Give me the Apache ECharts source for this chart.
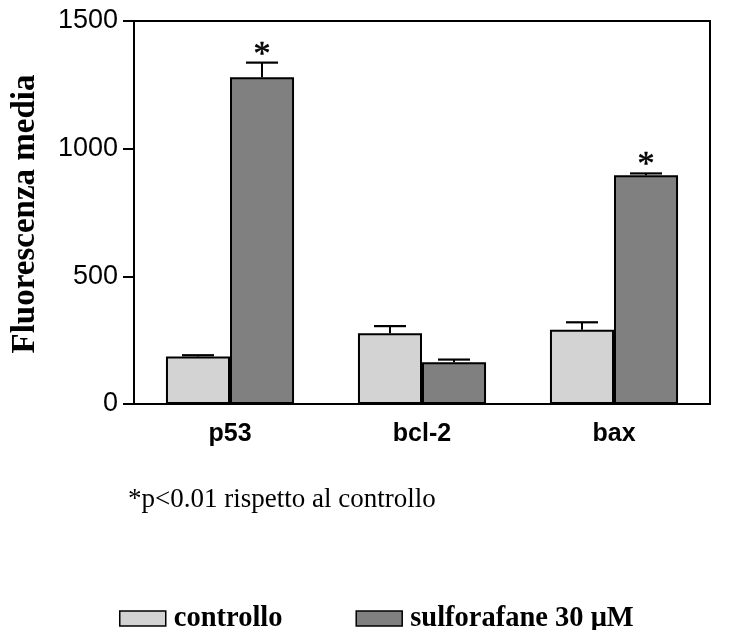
<!DOCTYPE html>
<html>
<head>
<meta charset="utf-8">
<script src="https://cdn.jsdelivr.net/npm/echarts@6/dist/echarts.min.js"></script>
<style>html,body{margin:0;padding:0;background:#fff;}#main{width:729px;height:630px;}</style>
</head>
<body>
<div id="main"></div>
<script>
var categories = ['p53', 'bcl-2', 'bax'];
var seriesNames = ['controllo', 'sulforafane 30 \u03bcM'];
var controlValues = [186, 277, 291];
var controlErrors = [5, 28, 29];
var sulfValues = [1280, 164, 896];
var sulfErrors = [57, 10, 7];
var sulfSignif = ['*', '', '*'];
var yTicks = [0, 500, 1000, 1500];
var footnote = '*p<0.01 rispetto al controllo';
var yTitle = 'Fluorescenza media';

var chart = echarts.init(document.getElementById('main'), null, {renderer: 'canvas'});

function errData(vals, errs, sig) {
  return categories.map(function (c, i) { return [i, vals[i], errs[i], sig ? sig[i] : '']; });
}

function makeErr(offsetSign) {
  return function (params, api) {
    var band = api.size([1, 0])[0];
    var off = offsetSign * band / 6;
    var x = api.coord([api.value(0), 0])[0] + off;
    var yTop = api.coord([0, api.value(1)])[1];
    var yCap = api.coord([0, api.value(1) + api.value(2)])[1];
    var half = band / 12;
    var children = [
      {type: 'line', shape: {x1: x, y1: yTop, x2: x, y2: yCap}, style: {stroke: '#000', lineWidth: 2}},
      {type: 'line', shape: {x1: x - half, y1: yCap, x2: x + half, y2: yCap}, style: {stroke: '#000', lineWidth: 2.2}}
    ];
    var s = api.value(3);
    if (s) {
      children.push({type: 'text', style: {text: s, x: x, y: yCap - 8, align: 'center', verticalAlign: 'middle',
        font: '34px "Liberation Serif", "Times New Roman", serif', fill: '#000', stroke: '#000', lineWidth: 0.6}});
    }
    return {type: 'group', children: children};
  };
}

var option = {
  animation: false,
  backgroundColor: '#fff',
  grid: {left: 134, right: 19, top: 21, height: 383, show: true, borderColor: '#000', borderWidth: 2, containLabel: false},
  legend: {
    data: seriesNames,
    icon: 'rect',
    left: 114, top: 599,
    itemWidth: 46, itemHeight: 15, itemGap: 73,
    textStyle: {fontFamily: '"Liberation Serif", "Times New Roman", serif', fontWeight: 'bold', fontSize: 28.5, color: '#000', padding: [0, 0, 0, 3]},
    itemStyle: {borderColor: '#000', borderWidth: 1.5}
  },
  xAxis: {
    type: 'category', data: categories,
    axisLine: {lineStyle: {color: '#000', width: 2}},
    axisTick: {show: false},
    axisLabel: {fontFamily: '"Liberation Sans", Arial, sans-serif', fontWeight: 'bold', fontSize: 25, color: '#000', margin: 18}
  },
  yAxis: {
    type: 'value', min: 0, max: 1500, interval: 500,
    axisLine: {show: true, lineStyle: {color: '#000', width: 2}},
    axisTick: {show: true, inside: false, length: 11, lineStyle: {color: '#000', width: 2}},
    axisLabel: {fontFamily: '"Liberation Sans", Arial, sans-serif', fontSize: 27, color: '#000', margin: 16,
      formatter: function (v) { return yTicks.indexOf(v) >= 0 ? String(v) : ''; }},
    splitLine: {show: false}
  },
  graphic: [
    {type: 'text', rotation: Math.PI / 2, x: 25, y: 214,
      style: {text: yTitle, font: 'bold 33px "Liberation Serif", "Times New Roman", serif', fill: '#000', align: 'center', verticalAlign: 'middle'}},
    {type: 'text', x: 128, y: 500,
      style: {text: footnote, font: '27px "Liberation Serif", "Times New Roman", serif', fill: '#000', align: 'left', verticalAlign: 'middle'}}
  ],
  series: [
    {name: seriesNames[0], type: 'bar', data: controlValues, barGap: 0, barCategoryGap: '33.3%',
      itemStyle: {color: '#d3d3d3', borderColor: '#000', borderWidth: 2}},
    {name: seriesNames[1], type: 'bar', data: sulfValues, barGap: 0, barCategoryGap: '33.3%',
      itemStyle: {color: '#808080', borderColor: '#000', borderWidth: 2}},
    {type: 'custom', renderItem: makeErr(-1), data: errData(controlValues, controlErrors, null), z: 5,
      encode: {x: 0, y: 1}},
    {type: 'custom', renderItem: makeErr(1), data: errData(sulfValues, sulfErrors, sulfSignif), z: 5,
      encode: {x: 0, y: 1}}
  ]
};
chart.setOption(option);
</script>
</body>
</html>
